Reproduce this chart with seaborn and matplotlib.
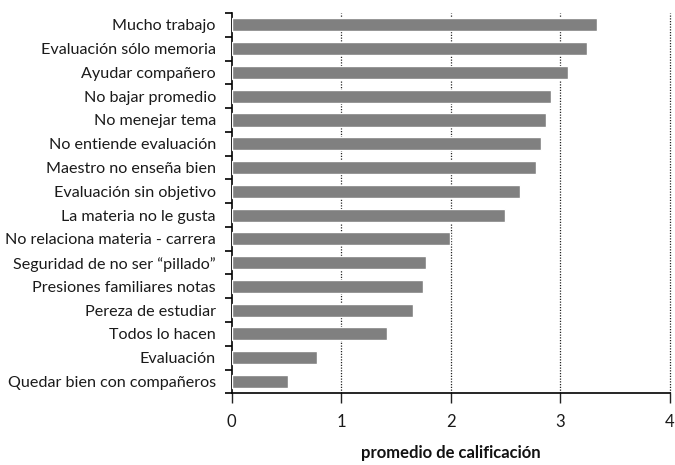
import matplotlib
matplotlib.use("Agg")
import matplotlib.pyplot as plt
import seaborn as sns
import pandas as pd
import numpy as np

categorias = [
    "Mucho trabajo",
    "Evaluación sólo memoria",
    "Ayudar compañero",
    "No bajar promedio",
    "No menejar tema",
    "No entiende evaluación",
    "Maestro no enseña bien",
    "Evaluación sin objetivo",
    "La materia no le gusta",
    "No relaciona materia - carrera",
    "Seguridad de no ser \u201cpillado\u201d",
    "Presiones familiares notas",
    "Pereza de estudiar",
    "Todos lo hacen",
    "Evaluación",
    "Quedar bien con compañeros",
]
promedios = [3.33, 3.24, 3.07, 2.91, 2.87, 2.82, 2.78, 2.63, 2.49, 1.99,
             1.77, 1.75, 1.65, 1.42, 0.78, 0.51]
ticks_x = [0, 1, 2, 3, 4]

sns.set_theme(style="white")
plt.rcParams["font.family"] = ["Lato", "DejaVu Sans"]

df = pd.DataFrame({"motivo": categorias, "promedio": promedios})

fig = plt.figure(figsize=(6.75, 4.65), dpi=100)
ax = fig.add_axes([0.3433, 0.1542, 0.9926 - 0.3433, 0.972 - 0.1542])

sns.barplot(data=df, x="promedio", y="motivo", orient="h", color="#808080",
            saturation=1, width=0.55, ax=ax, zorder=3)

ax.set_xlim(0, 4)
ax.set_ylim(len(categorias) - 0.5, -0.5)
ax.set_xticks(ticks_x)
ax.set_xticklabels([str(t) for t in ticks_x])

# dotted vertical gridlines
for t in ticks_x[1:]:
    ax.axvline(t, color="#222222", lw=0.9, ls=(0, (1, 1.2)), zorder=1,
               clip_on=False)

for side in ["top", "right"]:
    ax.spines[side].set_visible(False)
for side in ["left", "bottom"]:
    ax.spines[side].set_color("black")
    ax.spines[side].set_linewidth(1.2)

# category boundaries marked with outward ticks on the y axis
ax.set_yticks(np.arange(-0.5, len(categorias), 1.0), minor=True)
ax.tick_params(axis="y", which="minor", left=True, length=5, width=1.2,
               color="black", direction="out")
ax.tick_params(axis="y", which="major", left=False, length=0, pad=11.5,
               labelsize=11.6, labelcolor="#1a1a1a")
ax.tick_params(axis="x", which="major", bottom=True, length=7, width=1,
               color="#222222", direction="out", pad=8,
               labelsize=12, labelcolor="#1a1a1a")

ax.set_ylabel("")
ax.set_xlabel("promedio de calificación", fontsize=12, fontweight="bold",
              color="#111111", labelpad=11)

fig.savefig("out.png", dpi=100)
